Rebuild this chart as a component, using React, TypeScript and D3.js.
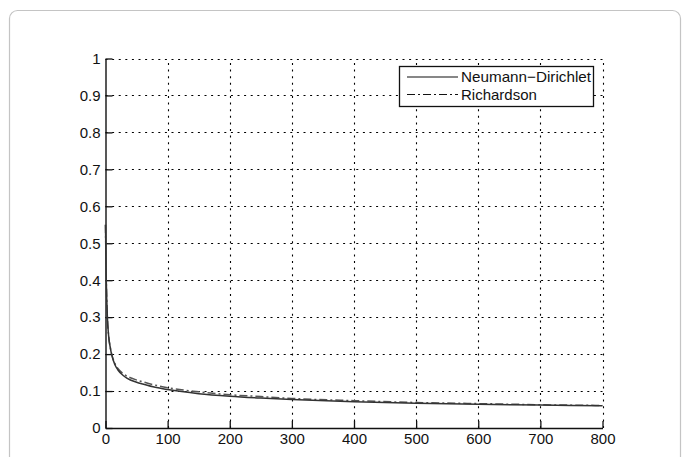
import { useEffect, useRef } from "react";
import * as d3 from "d3";

// iteration counts and the two residual curves
const iterations = [0, 1, 2, 3, 5, 8, 10, 15, 20, 30, 40, 50, 60, 80, 100, 150, 200, 250, 300, 400, 500, 600, 700, 800];
const neumannDirichlet = [0.55, 0.42, 0.35, 0.3, 0.25, 0.215, 0.198, 0.172, 0.157, 0.14, 0.13, 0.124, 0.119, 0.11, 0.104, 0.093, 0.086, 0.081, 0.077, 0.071, 0.067, 0.064, 0.062, 0.06];
const richardson = [0.55, 0.42, 0.35, 0.3, 0.25, 0.215, 0.2, 0.175, 0.161, 0.145, 0.136, 0.13, 0.125, 0.116, 0.109, 0.098, 0.09, 0.085, 0.08, 0.074, 0.069, 0.066, 0.063, 0.061];
const xTicks = [0, 100, 200, 300, 400, 500, 600, 700, 800];
const yTicks = [0, 0.1, 0.2, 0.3, 0.4, 0.5, 0.6, 0.7, 0.8, 0.9, 1];
const legendLabels = ["Neumann\u2212Dirichlet", "Richardson"];

const W = 683;
const H = 457;
const FONT = "Arial, 'Liberation Sans', Helvetica, sans-serif";

const App = () => {
  const ref = useRef<SVGSVGElement>(null);

  useEffect(() => {
    const svg = d3.select(ref.current);
    svg.selectAll("*").remove();

    // outer card frame
    svg
      .append("rect")
      .attr("x", 9.5)
      .attr("y", 10.5)
      .attr("width", 671)
      .attr("height", 480)
      .attr("rx", 8)
      .attr("fill", "white")
      .attr("stroke", "#c4c4c4")
      .attr("stroke-width", 1.2);

    const x = d3.scaleLinear().domain([0, 800]).range([105.5, 602.5]);
    const y = d3.scaleLinear().domain([0, 1]).range([428, 58.5]);

    // dotted grid
    const grid = svg.append("g").attr("stroke", "#000").attr("stroke-width", 1.1).attr("stroke-dasharray", "2,4.6");
    grid
      .selectAll("line.gx")
      .data(xTicks.slice(1))
      .join("line")
      .attr("x1", (d) => Math.round(x(d)) + 0.5)
      .attr("x2", (d) => Math.round(x(d)) + 0.5)
      .attr("y1", y(0))
      .attr("y2", y(1));
    grid
      .selectAll("line.gy")
      .data(yTicks.slice(1))
      .join("line")
      .attr("x1", x(0))
      .attr("x2", x(800))
      .attr("y1", (d) => Math.round(y(d)) + 0.5)
      .attr("y2", (d) => Math.round(y(d)) + 0.5);

    // axes (left + bottom only, ticks inward)
    const xAxis = svg
      .append("g")
      .attr("transform", `translate(0,${y(0)})`)
      .call(d3.axisBottom(x).tickValues(xTicks).tickSize(-7).tickSizeOuter(0).tickPadding(12).tickFormat(d3.format("d")));
    const yAxis = svg
      .append("g")
      .attr("transform", `translate(${x(0)},0)`)
      .call(d3.axisLeft(y).tickValues(yTicks).tickSize(-7).tickSizeOuter(0).tickPadding(12).tickFormat((d) => (d === 0 || d === 1 ? String(d) : d3.format(".1f")(d as number))));
    [xAxis, yAxis].forEach((a) => {
      a.selectAll("path").attr("stroke", "#111").attr("stroke-width", 1.4);
      a.selectAll("line").attr("stroke", "#111").attr("stroke-width", 1.3);
      a.selectAll("text").attr("font-family", FONT).attr("font-size", 15).attr("fill", "#111");
    });
    yAxis.selectAll("text").attr("x", -5);
    xAxis.selectAll("text").attr("y", 5.5);

    const line = d3
      .line<number>()
      .x((_, i) => x(iterations[i]))
      .y((d) => y(d))
      .curve(d3.curveMonotoneX);

    svg
      .append("path")
      .attr("d", line(richardson))
      .attr("fill", "none")
      .attr("stroke", "#555")
      .attr("stroke-width", 1.5)
      .attr("stroke-dasharray", "8,3,2,3");
    svg
      .append("path")
      .attr("d", line(neumannDirichlet))
      .attr("fill", "none")
      .attr("stroke", "#333")
      .attr("stroke-width", 1.5);

    // legend
    const lg = svg.append("g");
    lg.append("rect")
      .attr("x", 399.5)
      .attr("y", 66.5)
      .attr("width", 194)
      .attr("height", 40)
      .attr("fill", "white")
      .attr("stroke", "#111")
      .attr("stroke-width", 1.3);
    legendLabels.forEach((label, i) => {
      const ly = 77 + i * 17.5;
      lg.append("line")
        .attr("x1", 407)
        .attr("x2", 458)
        .attr("y1", ly)
        .attr("y2", ly)
        .attr("stroke", "#111")
        .attr("stroke-width", 1.2)
        .attr("stroke-dasharray", i === 0 ? null : "8,3,2,3");
      lg.append("text")
        .attr("x", 461)
        .attr("y", ly + 5)
        .attr("font-family", FONT)
        .attr("font-size", 15)
        .attr("textLength", 130)
        .attr("lengthAdjust", "spacingAndGlyphs")
        .attr("textLength", i === 0 ? 130 : null)
        .attr("fill", "#111")
        .text(label);
    });
  }, []);

  return <svg ref={ref} width={W} height={H} style={{ position: "fixed", left: 0, top: 0, background: "white" }} />;
};

export default App;
